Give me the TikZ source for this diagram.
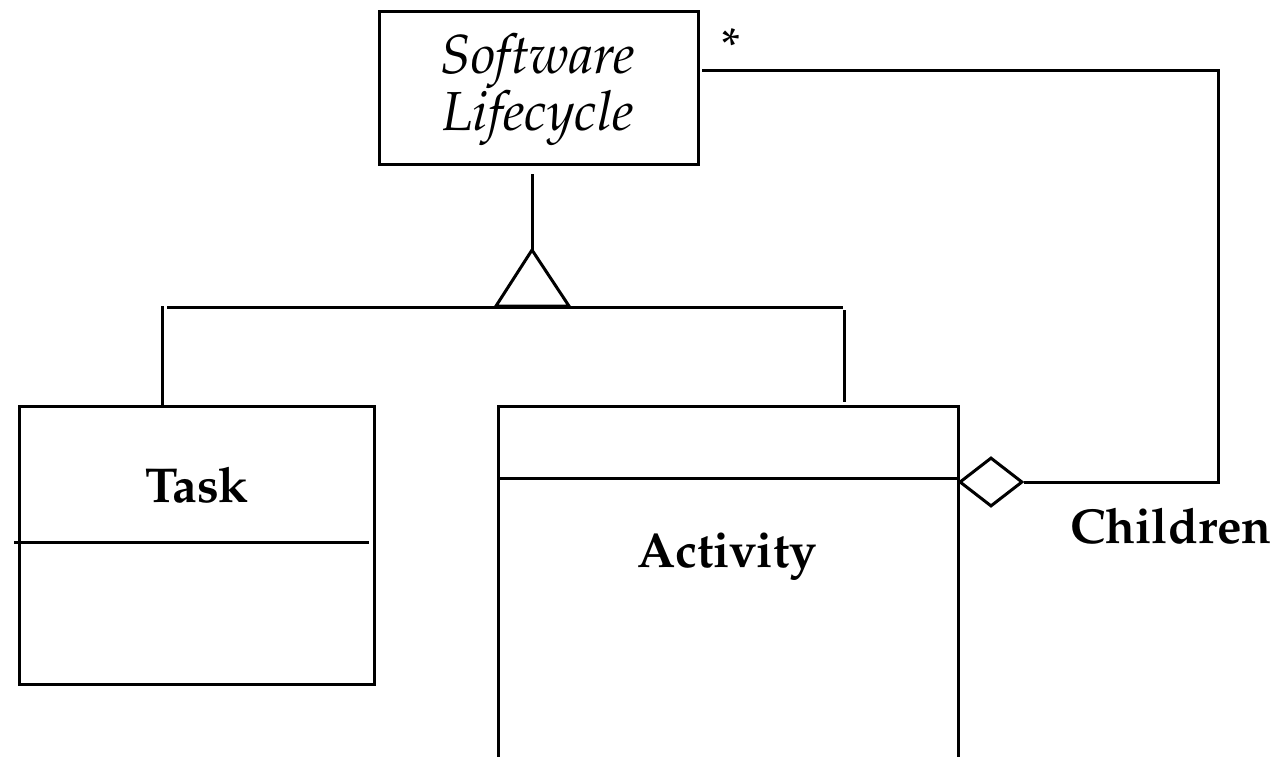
\documentclass[tikz,border=0pt]{standalone}
\usepackage[T1]{fontenc}
\usepackage{mathpazo}
\usetikzlibrary{shapes.geometric}
\begin{document}
\begin{tikzpicture}[x=0.5pt,y=-0.5pt,line width=1.5pt]
\tikzset{
  classbox/.style={draw,rectangle,line width=1.5pt,inner sep=0pt,anchor=north west},
  bigtext/.style={font=\fontsize{24.5}{26.5}\selectfont},
  boldlabel/.style={font=\fontsize{24.5}{26.5}\selectfont\bfseries,anchor=base,inner sep=0pt},
  abstractname/.style={font=\fontsize{27.5}{26.5}\selectfont\itshape,align=center,inner sep=0pt},
  aggdiamond/.style={diamond,draw,line width=1.5pt,inner sep=0pt,aspect=1.29,
    minimum width=31.5pt,minimum height=24.5pt,anchor=west},
  wire/.style={line width=1.5pt}
}
\useasboundingbox (0,0) rectangle (1280,756);
\clip (0,0) rectangle (1280,756);

% classes
\node[classbox,minimum width=159.5pt,minimum height=76.5pt] (life) at (378,10) {};
\node[abstractname] (lifename) at (538,90) {Software\\Lifecycle};
\node[classbox,minimum width=177.5pt,minimum height=139pt] (task) at (18,405) {};
\node[classbox,minimum width=230pt,minimum height=200pt] (act) at (497,405) {};

% compartment lines
\coordinate (taskdivL) at (14,542);
\coordinate (taskdivR) at (369,542);
\draw[wire] (taskdivL) -- (taskdivR);
\coordinate (actdivL) at (499,478);
\draw[wire] (actdivL) -- (actdivL -| act.east);

% class names
\node[boldlabel] (tasklabel) at (197,502) {Task};
\node[boldlabel] (actlabel) at (727,567) {Activity};

% generalization
\coordinate (lifefoot) at (532,174);
\coordinate (apex) at (532,250);
\coordinate (triL) at (496,306);
\coordinate (triR) at (569,306);
\coordinate (busL) at (167,307);
\coordinate (busR) at (843,307);
\coordinate (taskdrop) at (162,306);
\coordinate (actdrop) at (844,310);
\coordinate (actdropend) at (844,402);
\draw[wire] (lifefoot) -- (apex);
\draw[wire,line join=miter] (apex) -- (triL) -- (triR) -- cycle;
\draw[wire] (busL) -- (busR);
\draw[wire] (taskdrop) -- (taskdrop |- task.north);
\draw[wire] (actdrop) -- (actdropend);

% aggregation
\node[aggdiamond] (agg) at (958,482) {};
\coordinate (cornerB) at (1218,484);
\coordinate (cornerT) at (1218,70);
\coordinate (lifeend) at (702,70);
\draw[wire] (agg.east) -- (agg.east -| cornerB) -- (cornerT) -- (lifeend);

\node[bigtext,inner sep=0pt] (mult) at (731,46) {*};
\node[boldlabel] (role) at (1171,543) {Children};
\end{tikzpicture}
\end{document}
